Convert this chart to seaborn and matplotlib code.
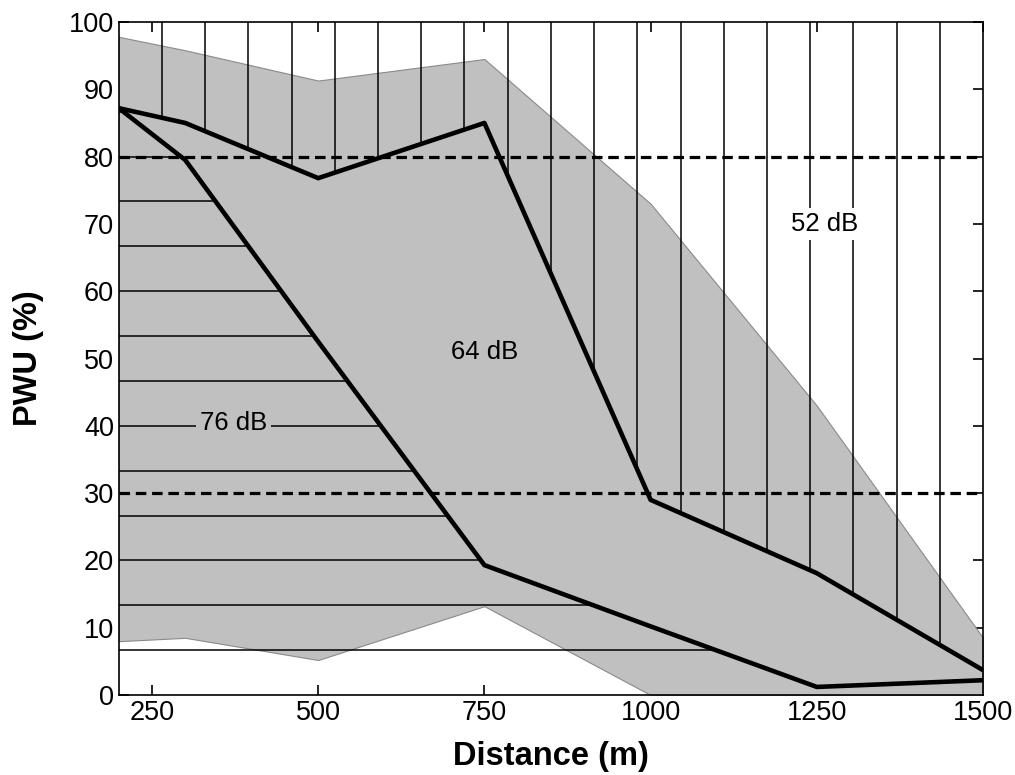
import numpy as np
import pandas as pd
import matplotlib
matplotlib.use("Agg")
import matplotlib.pyplot as plt
import seaborn as sns

# Distance grid (m)
distance = [200, 300, 500, 750, 1000, 1250, 1500]

# Envelope of PWU (%) over all source levels
band_upper = [97.8, 95.8, 91.3, 94.5, 73.0, 43.0, 8.5]
band_lower = [8.0, 8.5, 5.2, 13.2, 0.0, 0.0, 0.0]

# PWU (%) curves bounding the level regions
curve_64_76 = [87.2, 79.5, 52.5, 19.3, 10.2, 1.2, 2.2]   # boundary 76 dB / 64 dB
curve_52_64 = [87.2, 85.0, 76.8, 85.0, 29.0, 18.1, 3.7]  # boundary 64 dB / 52 dB

# Reference thresholds
thresholds = [80, 30]

region_labels = ["76 dB", "64 dB", "52 dB"]
label_x = [373, 751, 1261]
label_y = [40.4, 51.0, 70.0]

x_ticks = [250, 500, 750, 1000, 1250, 1500]
y_ticks = list(range(0, 101, 10))

sns.set_theme(style="white")
plt.rcParams["font.family"] = ["Liberation Sans", "DejaVu Sans"]
plt.rcParams["text.color"] = "black"
plt.rcParams["axes.labelcolor"] = "black"

fig = plt.figure(figsize=(10.15, 7.75), dpi=100)
ax = fig.add_axes([0.117, 0.1032, 0.8515, 0.8684])

# grey envelope
ax.fill_between(distance, band_lower, band_upper, color="#c0c0c0",
                edgecolor="#8a8a8a", linewidth=0.8, zorder=1)

# vertical hatching above the 52/64 dB boundary
xs = 200 + 1300 * np.arange(1, 20) / 20
ax.vlines(xs, np.interp(xs, distance, curve_52_64), 100,
          colors="black", linewidth=1.1, zorder=2)

# horizontal hatching below the 64/76 dB boundary
ys = 100 * np.arange(1, 15) / 15
dec_x = np.array(distance[:6])[::-1]
dec_y = np.array(curve_64_76[:6])[::-1]
ax.hlines(ys, 200, np.interp(ys, dec_y, dec_x),
          colors="black", linewidth=1.1, zorder=2)

# threshold lines
for t in thresholds:
    ax.axhline(t, color="black", linewidth=2.3,
               linestyle=(0, (3.3, 1.8)), zorder=3)

df = pd.DataFrame({"Distance": distance * 2,
                   "PWU": curve_64_76 + curve_52_64,
                   "curve": ["a"] * 7 + ["b"] * 7})
sns.lineplot(data=df, x="Distance", y="PWU", units="curve", estimator=None,
             color="black", linewidth=3.3, ax=ax, zorder=4,
             solid_joinstyle="round", solid_capstyle="round")

backgrounds = ["#c0c0c0", "#c0c0c0", "white"]
for txt, x, y, bg in zip(region_labels, label_x, label_y, backgrounds):
    ax.text(x, y, txt, fontsize=18.5, ha="center", va="center", zorder=5,
            color="black",
            bbox=dict(boxstyle="square,pad=0.15", facecolor=bg, edgecolor="none"))

ax.set_xlim(200, 1500)
ax.set_ylim(0, 100)
ax.set_xticks(x_ticks)
ax.set_yticks(y_ticks)
ax.tick_params(direction="in", length=7, width=1.2, labelsize=19.5,
               top=True, right=True, bottom=True, left=True, colors="black")
for s in ax.spines.values():
    s.set_visible(True)
    s.set_color("black")
    s.set_linewidth(1.2)
ax.set_xlabel("Distance (m)", fontsize=23.5, fontweight="bold", labelpad=11)
ax.set_ylabel("PWU (%)", fontsize=23.5, fontweight="bold", labelpad=18)

fig.savefig("out.png", dpi=100, facecolor="white")
